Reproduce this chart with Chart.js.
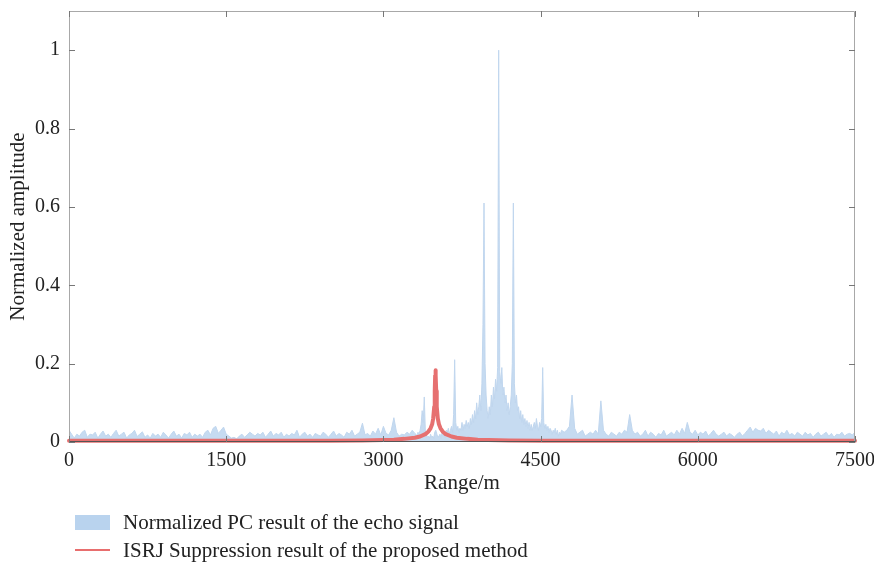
<!DOCTYPE html>
<html>
<head>
<meta charset="utf-8">
<script src="https://cdn.jsdelivr.net/npm/chart.js@4/dist/chart.umd.min.js"></script>
<style>
  body { margin:0; background:#fff; }
  #wrap { position:relative; width:874px; height:565px; }
  .lg { position:absolute; font-family:"Liberation Serif","DejaVu Serif",serif; font-size:21px; color:#222; white-space:nowrap; line-height:22px; }
</style>
</head>
<body>
<div id="wrap">
  <canvas id="c" width="874" height="565"></canvas>
  <div style="position:absolute;left:75px;top:515px;width:35px;height:15px;background:rgb(185,211,238);"></div>
  <div class="lg" style="left:123px;top:511px;">Normalized PC result of the echo signal</div>
  <div style="position:absolute;left:75px;top:549px;width:35px;height:1.5px;background:rgb(232,110,110);"></div>
  <div class="lg" style="left:123px;top:539px;">ISRJ Suppression result of the proposed method</div>
</div>
<script>
// ---- Data ----
// Segment A: 0 .. 3300 m, step 25 m
const segAStart = 0, segAStep = 25;
const pcSegA = [
  0.03,0.02,0.01,0.02,0.015,0.025,0.03,0.012,0.02,0.018,
  0.025,0.01,0.02,0.028,0.015,0.02,0.012,0.022,0.03,0.015,
  0.02,0.025,0.01,0.018,0.022,0.03,0.014,0.02,0.026,0.012,
  0.018,0.01,0.022,0.015,0.02,0.012,0.025,0.018,0.01,0.02,
  0.028,0.015,0.02,0.01,0.022,0.018,0.025,0.012,0.02,0.015,
  0.02,0.012,0.025,0.03,0.018,0.035,0.04,0.022,0.03,0.038,
  0.02,0.015,0.01,0.012,0.008,0.015,0.02,0.012,0.018,0.025,
  0.02,0.015,0.022,0.018,0.025,0.012,0.02,0.028,0.015,0.022,
  0.018,0.025,0.012,0.02,0.015,0.022,0.018,0.03,0.012,0.02,
  0.025,0.015,0.02,0.012,0.022,0.018,0.015,0.025,0.02,0.012,
  0.02,0.028,0.015,0.022,0.018,0.012,0.025,0.02,0.03,0.015,
  0.02,0.025,0.048,0.018,0.022,0.015,0.028,0.02,0.035,0.018,
  0.04,0.022,0.018,0.03,0.062,0.025,0.015,0.02,0.018,0.025,
  0.02,0.03,0.022
];
// Segment B: 3310 .. 4700 m, step 10 m
const segBStart = 3310, segBStep = 10;
const pcSegB = [
  0.02,0.015,0.025,0.02,0.03,0.045,0.08,0.05,0.115,0.03,
  0.02,0.012,0.015,0.01,0.02,0.012,0.015,0.01,0.025,0.03,
  0.02,0.012,0.015,0.02,0.01,0.025,0.015,0.02,0.012,0.03,
  0.025,0.035,0.02,0.03,0.04,0.025,0.07,0.21,0.05,0.03,
  0.04,0.025,0.035,0.03,0.05,0.03,0.045,0.035,0.055,0.04,
  0.05,0.035,0.06,0.045,0.07,0.05,0.08,0.06,0.1,0.07,
  0.09,0.12,0.08,0.15,0.3,0.61,0.2,0.12,0.08,0.06,
  0.09,0.07,0.12,0.09,0.14,0.11,0.16,0.13,0.19,1.0,
  0.18,0.15,0.19,0.12,0.14,0.1,0.12,0.08,0.1,0.07,
  0.09,0.12,0.2,0.61,0.15,0.1,0.12,0.08,0.09,0.06,
  0.08,0.05,0.07,0.045,0.06,0.04,0.055,0.035,0.05,0.03,
  0.045,0.03,0.04,0.05,0.035,0.06,0.04,0.03,0.05,0.04,
  0.06,0.19,0.05,0.035,0.045,0.03,0.04,0.025,0.035,0.03,
  0.02,0.03,0.025,0.035,0.02,0.03,0.015,0.025,0.02,0.03
];
// Segment C: 4725 .. 7500 m, step 25 m
const segCStart = 4725, segCStep = 25;
const pcSegC = [
  0.025,0.03,0.04,0.12,0.035,0.02,0.025,0.03,0.015,0.02,
  0.025,0.02,0.03,0.02,0.105,0.03,0.02,0.015,0.025,0.02,
  0.015,0.025,0.02,0.03,0.025,0.07,0.03,0.02,0.025,0.015,
  0.02,0.03,0.015,0.025,0.02,0.012,0.022,0.018,0.03,0.015,
  0.02,0.025,0.018,0.03,0.02,0.035,0.022,0.05,0.025,0.02,
  0.03,0.018,0.025,0.02,0.028,0.015,0.022,0.03,0.02,0.015,
  0.02,0.025,0.015,0.022,0.018,0.012,0.02,0.025,0.015,0.022,
  0.03,0.038,0.025,0.035,0.03,0.028,0.035,0.022,0.03,0.025,
  0.02,0.028,0.015,0.025,0.02,0.03,0.018,0.022,0.015,0.025,
  0.02,0.015,0.025,0.018,0.022,0.012,0.02,0.025,0.015,0.02,
  0.025,0.015,0.022,0.012,0.02,0.018,0.025,0.015,0.02,0.022,
  0.018,0.025
];
// ISRJ suppression result
const isrjRange = [0,1000,2000,2500,2800,3000,3100,3200,3300,3350,3400,3430,3450,3465,3475,3485,3490,3494,3497,3500,3504,3509,3519,3530,3545,3565,3595,3650,3700,3800,3900,4000,4200,4500,5500,7500];
const isrjAmp   = [0.003,0.003,0.003,0.003,0.004,0.005,0.006,0.008,0.011,0.014,0.02,0.027,0.035,0.045,0.06,0.09,0.13,0.17,0.183,0.17,0.13,0.09,0.06,0.045,0.035,0.027,0.02,0.014,0.011,0.008,0.006,0.005,0.004,0.003,0.003,0.003];

const xTickVals = [0,1500,3000,4500,6000,7500];
const yTickVals = [0,0.2,0.4,0.6,0.8,1];
const seriesNames = ["Normalized PC result of the echo signal","ISRJ Suppression result of the proposed method"];

// ---- Build points ----
const pcPoints = [];
pcSegA.forEach((v,i)=>pcPoints.push({x:segAStart+i*segAStep,y:v}));
pcSegB.forEach((v,i)=>pcPoints.push({x:segBStart+i*segBStep,y:v}));
pcSegC.forEach((v,i)=>pcPoints.push({x:segCStart+i*segCStep,y:v}));
const isrjPoints = isrjRange.map((x,i)=>({x:x,y:isrjAmp[i]}));

const FONT = '"Liberation Serif","DejaVu Serif",serif';

const boxPlugin = {
  id:'box',
  afterDatasetsDraw(chart){
    const {ctx, chartArea:{left,right,top,bottom}, scales:{x,y}} = chart;
    ctx.save();
    ctx.lineWidth = 1;
    ctx.strokeStyle = '#a8a8a8';
    ctx.beginPath();
    ctx.moveTo(left+0.5, bottom); ctx.lineTo(left+0.5, top+0.5);
    ctx.lineTo(right-0.5, top+0.5); ctx.lineTo(right-0.5, bottom);
    ctx.stroke();
    ctx.strokeStyle = '#555';
    ctx.beginPath();
    ctx.moveTo(left, bottom-0.5); ctx.lineTo(right, bottom-0.5);
    ctx.stroke();
    ctx.strokeStyle = '#777';
    ctx.beginPath();
    xTickVals.forEach(v=>{
      const px = Math.round(x.getPixelForValue(v))+0.5;
      ctx.moveTo(px,bottom); ctx.lineTo(px,bottom-6);
      ctx.moveTo(px,top); ctx.lineTo(px,top+6);
    });
    yTickVals.forEach(v=>{
      const py = Math.round(y.getPixelForValue(v))+0.5;
      ctx.moveTo(left,py); ctx.lineTo(left+6,py);
      ctx.moveTo(right,py); ctx.lineTo(right-6,py);
    });
    ctx.stroke();
    ctx.restore();
  }
};

function zeroPad(s){ s.paddingLeft = 0; s.paddingRight = 0; s.paddingTop = 0; s.paddingBottom = 0; }

new Chart(document.getElementById('c'), {
  type:'line',
  data:{
    datasets:[
      {
        label: seriesNames[0],
        data: pcPoints,
        borderColor:'rgb(192,214,238)',
        backgroundColor:'rgb(198,219,241)',
        borderWidth:1,
        pointRadius:0,
        fill:'origin',
        tension:0,
        order:2
      },
      {
        label: seriesNames[1],
        data: isrjPoints,
        borderColor:'rgb(230,112,112)',
        borderWidth:4,
        borderCapStyle:'round',
        borderJoinStyle:'round',
        pointRadius:0,
        fill:false,
        tension:0,
        clip:6,
        order:1
      }
    ]
  },
  options:{
    responsive:false,
    animation:false,
    devicePixelRatio:1,
    layout:{padding:{left:0,top:11,right:19,bottom:71}},
    plugins:{legend:{display:false},tooltip:{enabled:false}},
    scales:{
      x:{
        type:'linear', min:0, max:7500,
        grid:{display:false, drawTicks:false},
        border:{display:false},
        afterBuildTicks:(s)=>{ s.ticks = xTickVals.map(v=>({value:v})); },
        afterFit:(s)=>{ s.height = 52; zeroPad(s); },
        ticks:{padding:7, color:'#222', font:{family:FONT,size:20}, maxRotation:0, callback:(v)=>String(v)},
        title:{display:true, text:'Range/m', color:'#222', font:{family:FONT,size:21}, padding:{top:0,bottom:-2}}
      },
      y:{
        type:'linear', min:0, max:1.1,
        grid:{display:false, drawTicks:false},
        border:{display:false},
        afterBuildTicks:(s)=>{ s.ticks = yTickVals.map(v=>({value:v})); },
        afterFit:(s)=>{ s.width = 69; zeroPad(s); },
        ticks:{padding:9, color:'#222', font:{family:FONT,size:20}, callback:(v)=>String(v)},
        title:{display:true, text:'Normalized amplitude', color:'#222', font:{family:FONT,size:21}, padding:{top:6,bottom:0}}
      }
    }
  },
  plugins:[boxPlugin]
});
</script>
</body>
</html>
